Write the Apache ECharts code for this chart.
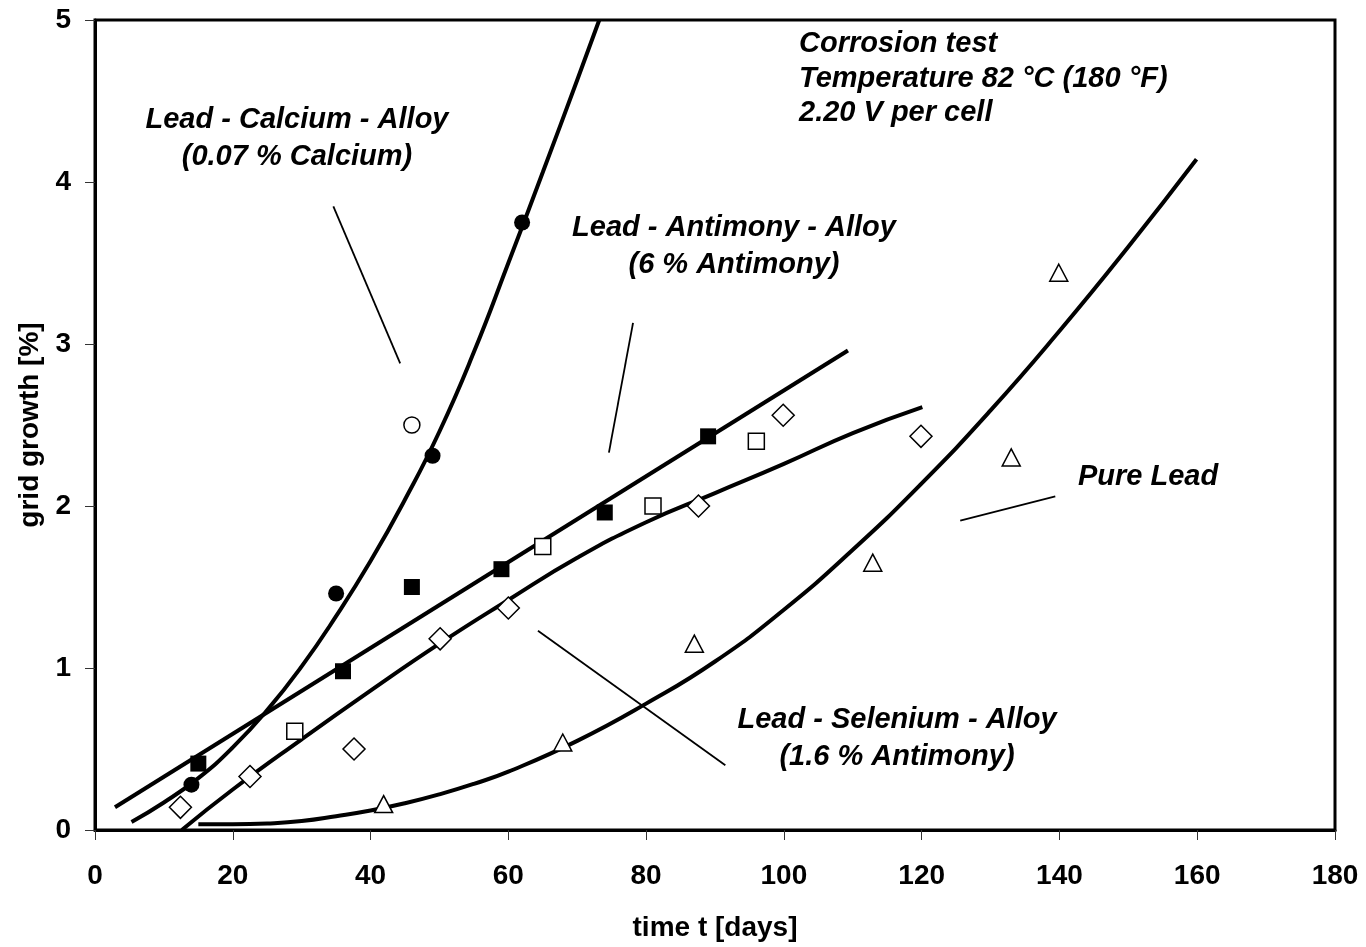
<!DOCTYPE html>
<html lang="en">
  <head>
    <meta charset="UTF-8" />
    <title>Grid growth corrosion test</title>
    <script src="https://cdn.jsdelivr.net/npm/echarts@6/dist/echarts.min.js"></script>
    <style>
      html, body { margin: 0; padding: 0; background: #fff; }
    </style>
  </head>

  <body>
    <div id="main" style="width: 1366px; height: 947px"></div>

    <script type="text/javascript">
      // measured points [days, grid growth %]
      const calciumFilled = [[14, 0.28], [35, 1.46], [49, 2.31], [62, 3.75]];
      const calciumOpen = [[46, 2.5]];
      const antimonyFilled = [[15, 0.41], [36, 0.98], [46, 1.5], [59, 1.61], [74, 1.96], [89, 2.43]];
      const antimonyOpen = [[29, 0.61], [65, 1.75], [81, 2.0], [96, 2.4]];
      const seleniumPts = [[12.4, 0.14], [22.5, 0.33], [37.6, 0.5], [50.1, 1.18], [60, 1.37], [87.6, 2.0], [99.9, 2.56], [119.9, 2.43]];
      const pureLeadPts = [[41.9, 0.16], [67.9, 0.54], [87, 1.15], [112.9, 1.65], [133, 2.3], [139.9, 3.44]];

      // trend curves
      const calciumCurve = [[5.3, 0.05], [10, 0.17], [15, 0.32], [20, 0.51], [25, 0.74], [30, 1.01], [35, 1.32],
        [40, 1.66], [45, 2.04], [50, 2.46], [55, 2.95], [60, 3.5], [65, 4.06], [70, 4.63], [73.2, 5.0]];
      const antimonyLine = [[2.9, 0.14], [109.3, 2.96]];
      const seleniumCurve = [[12.6, 0], [20, 0.25], [30, 0.56], [40, 0.86], [50, 1.15], [60, 1.42], [70, 1.68],
        [80, 1.9], [90, 2.08], [100, 2.26], [110, 2.45], [120.1, 2.61]];
      const pureLeadCurve = [[15, 0.035], [20, 0.035], [25, 0.04], [30, 0.055], [35, 0.085], [40, 0.12], [45, 0.165],
        [50, 0.22], [55, 0.285], [60, 0.36], [70, 0.55], [80, 0.78], [90, 1.04], [100, 1.36], [110, 1.73],
        [120, 2.14], [130, 2.59], [140, 3.08], [150, 3.6], [159.9, 4.14]];

      // leader lines from the labels
      const calciumLeader = [[34.6, 3.85], [44.3, 2.88]];
      const antimonyLeader = [[78.1, 3.13], [74.6, 2.33]];
      const pureLeadLeader = [[125.6, 1.91], [139.4, 2.06]];
      const seleniumLeader = [[64.3, 1.23], [91.5, 0.4]];

      const xTicks = { min: 0, max: 180, interval: 20 };
      const yTicks = { min: 0, max: 5, interval: 1 };

      const font = "Arial, 'Liberation Sans', sans-serif";
      const noteFont = "italic bold 29px Arial, 'Liberation Sans', sans-serif";

      function curve(data, width) {
        return {
          type: "line",
          data: data,
          smooth: true,
          showSymbol: false,
          symbol: "none",
          lineStyle: { color: "#000", width: width },
          z: 2,
        };
      }

      function points(data, symbol, size, filled) {
        return {
          type: "scatter",
          data: data,
          symbol: symbol,
          symbolSize: size,
          itemStyle: {
            color: filled ? "#000" : "#fff",
            borderColor: "#000",
            borderWidth: filled ? 0 : 1.5,
            opacity: 1,
          },
          z: 5,
        };
      }

      function note(text, x, y, align) {
        return {
          type: "text",
          style: {
            text: text,
            x: x,
            y: y,
            font: noteFont,
            fill: "#000",
            align: align,
            verticalAlign: "middle",
          },
          z: 10,
        };
      }

      let myChart = echarts.init(document.getElementById("main"));

      let options = {
        animation: false,
        grid: {
          left: 95,
          right: 31,
          top: 20,
          bottom: 117,
          show: true,
          borderColor: "#000",
          borderWidth: 3,
        },
        xAxis: {
          type: "value",
          min: xTicks.min,
          max: xTicks.max,
          interval: xTicks.interval,
          name: "time t [days]",
          nameLocation: "middle",
          nameGap: 84,
          nameTextStyle: { fontFamily: font, fontWeight: "bold", fontSize: 28, color: "#000" },
          axisLine: { lineStyle: { color: "#000", width: 3 } },
          axisTick: { show: true, length: 10, lineStyle: { color: "#333", width: 1 } },
          axisLabel: { margin: 32, fontFamily: font, fontWeight: "bold", fontSize: 28, color: "#000" },
          splitLine: { show: false },
        },
        yAxis: {
          type: "value",
          min: yTicks.min,
          max: yTicks.max,
          interval: yTicks.interval,
          name: "grid growth [%]",
          nameLocation: "middle",
          nameGap: 50,
          nameTextStyle: { fontFamily: font, fontWeight: "bold", fontSize: 28, color: "#000" },
          axisLine: { lineStyle: { color: "#000", width: 3 } },
          axisTick: { show: true, length: 10, lineStyle: { color: "#333", width: 1 } },
          axisLabel: { margin: 24, fontFamily: font, fontWeight: "bold", fontSize: 28, color: "#000" },
          splitLine: { show: false },
        },
        series: [
          curve(calciumCurve, 4),
          curve(antimonyLine, 4),
          curve(seleniumCurve, 4),
          curve(pureLeadCurve, 4),
          curve(calciumLeader, 1.8),
          curve(antimonyLeader, 1.8),
          curve(pureLeadLeader, 1.8),
          curve(seleniumLeader, 1.8),
          points(calciumFilled, "circle", 16, true),
          points(calciumOpen, "circle", 16, false),
          points(antimonyFilled, "rect", 16, true),
          points(antimonyOpen, "rect", 16, false),
          points(seleniumPts, "diamond", 22, false),
          points(pureLeadPts, "triangle", [18, 17], false),
        ],
        graphic: [
          note("Lead - Calcium - Alloy", 297, 120, "center"),
          note("(0.07 % Calcium)", 297, 157, "center"),
          note("Lead - Antimony - Alloy", 734, 228, "center"),
          note("(6 % Antimony)", 734, 265, "center"),
          note("Corrosion test", 799, 44, "left"),
          note("Temperature 82 °C (180 °F)", 799, 79, "left"),
          note("2.20 V per cell", 799, 113, "left"),
          note("Pure Lead", 1078, 477, "left"),
          note("Lead - Selenium - Alloy", 897, 720, "center"),
          note("(1.6 % Antimony)", 897, 757, "center"),
        ],
      };

      myChart.setOption(options);
    </script>
  </body>
</html>
